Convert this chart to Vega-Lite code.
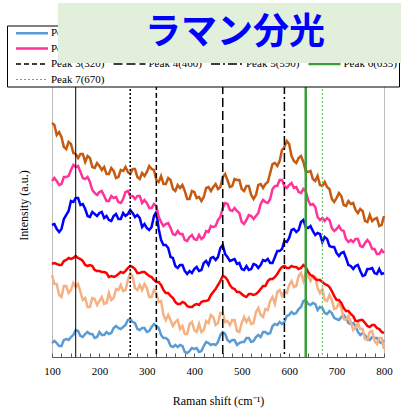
{
  "$schema": "https://vega.github.io/schema/vega-lite/v6.json",
  "width": 332,
  "height": 272,
  "autosize": {"type": "none"},
  "padding": {"left": 52, "top": 85, "right": 17, "bottom": 54},
  "background": "#ffffff",
  "title": {
    "text": "ラマン分光",
    "orient": "none",
    "align": "center",
    "baseline": "middle",
    "dx": 177,
    "dy": 30,
    "font": "Noto Sans CJK JP",
    "fontSize": 36,
    "fontWeight": "bold",
    "color": "#0000ff",
    "encode": {
      "group": {"update": {"x": {"value": 6}, "y": {"value": -82}, "width": {"value": 350}, "height": {"value": 60}, "fill": {"value": "#e2efda"}}},
      "title": {"update": {}}
    }
  },
  "datasets": {
    "spectra": [
      {"shift": 100, "Point 1": 14, "Point 2": 82, "Point 3": 93, "Point 4": 132, "Point 5": 176, "Point 6": 234},
      {"shift": 105, "Point 1": 16, "Point 2": 73, "Point 3": 94, "Point 4": 133, "Point 5": 179, "Point 6": 232},
      {"shift": 110, "Point 1": 14, "Point 2": 73, "Point 3": 93, "Point 4": 128, "Point 5": 176, "Point 6": 222},
      {"shift": 115, "Point 1": 11, "Point 2": 62, "Point 3": 92, "Point 4": 125, "Point 5": 172, "Point 6": 225},
      {"shift": 120, "Point 1": 11, "Point 2": 60, "Point 3": 92, "Point 4": 128, "Point 5": 173, "Point 6": 220},
      {"shift": 125, "Point 1": 17, "Point 2": 71, "Point 3": 96, "Point 4": 138, "Point 5": 180, "Point 6": 210},
      {"shift": 130, "Point 1": 18, "Point 2": 71, "Point 3": 97, "Point 4": 142, "Point 5": 180, "Point 6": 208},
      {"shift": 135, "Point 1": 17, "Point 2": 64, "Point 3": 99, "Point 4": 146, "Point 5": 181, "Point 6": 215},
      {"shift": 140, "Point 1": 20, "Point 2": 67, "Point 3": 98, "Point 4": 156, "Point 5": 187, "Point 6": 213},
      {"shift": 145, "Point 1": 22, "Point 2": 74, "Point 3": 99, "Point 4": 155, "Point 5": 192, "Point 6": 204},
      {"shift": 150, "Point 1": 27, "Point 2": 70, "Point 3": 101, "Point 4": 159, "Point 5": 190, "Point 6": 203},
      {"shift": 155, "Point 1": 26, "Point 2": 73, "Point 3": 99, "Point 4": 159, "Point 5": 191, "Point 6": 199},
      {"shift": 160, "Point 1": 21, "Point 2": 65, "Point 3": 98, "Point 4": 152, "Point 5": 185, "Point 6": 203},
      {"shift": 165, "Point 1": 20, "Point 2": 57, "Point 3": 96, "Point 4": 153, "Point 5": 179, "Point 6": 203},
      {"shift": 170, "Point 1": 23, "Point 2": 59, "Point 3": 92, "Point 4": 148, "Point 5": 178, "Point 6": 195},
      {"shift": 175, "Point 1": 25, "Point 2": 50, "Point 3": 91, "Point 4": 141, "Point 5": 180, "Point 6": 201},
      {"shift": 180, "Point 1": 23, "Point 2": 50, "Point 3": 92, "Point 4": 140, "Point 5": 175, "Point 6": 199},
      {"shift": 185, "Point 1": 23, "Point 2": 59, "Point 3": 91, "Point 4": 145, "Point 5": 167, "Point 6": 190},
      {"shift": 190, "Point 1": 19, "Point 2": 58, "Point 3": 87, "Point 4": 143, "Point 5": 164, "Point 6": 189},
      {"shift": 195, "Point 1": 20, "Point 2": 52, "Point 3": 86, "Point 4": 141, "Point 5": 162, "Point 6": 194},
      {"shift": 200, "Point 1": 25, "Point 2": 56, "Point 3": 86, "Point 4": 144, "Point 5": 165, "Point 6": 191},
      {"shift": 205, "Point 1": 22, "Point 2": 60, "Point 3": 85, "Point 4": 145, "Point 5": 166, "Point 6": 187},
      {"shift": 210, "Point 1": 22, "Point 2": 53, "Point 3": 85, "Point 4": 139, "Point 5": 161, "Point 6": 190},
      {"shift": 215, "Point 1": 25, "Point 2": 54, "Point 3": 84, "Point 4": 141, "Point 5": 156, "Point 6": 183},
      {"shift": 220, "Point 1": 23, "Point 2": 64, "Point 3": 80, "Point 4": 137, "Point 5": 156, "Point 6": 183},
      {"shift": 225, "Point 1": 24, "Point 2": 57, "Point 3": 81, "Point 4": 136, "Point 5": 161, "Point 6": 189},
      {"shift": 230, "Point 1": 29, "Point 2": 59, "Point 3": 80, "Point 4": 141, "Point 5": 159, "Point 6": 186},
      {"shift": 235, "Point 1": 31, "Point 2": 68, "Point 3": 81, "Point 4": 143, "Point 5": 160, "Point 6": 179},
      {"shift": 240, "Point 1": 29, "Point 2": 67, "Point 3": 83, "Point 4": 138, "Point 5": 155, "Point 6": 180},
      {"shift": 245, "Point 1": 28, "Point 2": 72, "Point 3": 85, "Point 4": 138, "Point 5": 154, "Point 6": 187},
      {"shift": 250, "Point 1": 30, "Point 2": 66, "Point 3": 84, "Point 4": 144, "Point 5": 158, "Point 6": 186},
      {"shift": 255, "Point 1": 32, "Point 2": 67, "Point 3": 86, "Point 4": 141, "Point 5": 165, "Point 6": 190},
      {"shift": 260, "Point 1": 37, "Point 2": 77, "Point 3": 89, "Point 4": 143, "Point 5": 166, "Point 6": 185},
      {"shift": 265, "Point 1": 38, "Point 2": 84, "Point 3": 91, "Point 4": 147, "Point 5": 161, "Point 6": 183},
      {"shift": 270, "Point 1": 35, "Point 2": 80, "Point 3": 90, "Point 4": 144, "Point 5": 161, "Point 6": 188},
      {"shift": 275, "Point 1": 34, "Point 2": 69, "Point 3": 88, "Point 4": 140, "Point 5": 158, "Point 6": 188},
      {"shift": 280, "Point 1": 28, "Point 2": 67, "Point 3": 84, "Point 4": 142, "Point 5": 161, "Point 6": 180},
      {"shift": 285, "Point 1": 27, "Point 2": 72, "Point 3": 84, "Point 4": 139, "Point 5": 161, "Point 6": 178},
      {"shift": 290, "Point 1": 29, "Point 2": 67, "Point 3": 85, "Point 4": 130, "Point 5": 154, "Point 6": 184},
      {"shift": 295, "Point 1": 29, "Point 2": 73, "Point 3": 85, "Point 4": 133, "Point 5": 157, "Point 6": 181},
      {"shift": 300, "Point 1": 25, "Point 2": 69, "Point 3": 83, "Point 4": 129, "Point 5": 154, "Point 6": 185},
      {"shift": 305, "Point 1": 26, "Point 2": 60, "Point 3": 81, "Point 4": 127, "Point 5": 149, "Point 6": 191},
      {"shift": 310, "Point 1": 30, "Point 2": 60, "Point 3": 80, "Point 4": 130, "Point 5": 149, "Point 6": 188},
      {"shift": 315, "Point 1": 33, "Point 2": 67, "Point 3": 77, "Point 4": 141, "Point 5": 153, "Point 6": 187},
      {"shift": 320, "Point 1": 31, "Point 2": 64, "Point 3": 75, "Point 4": 145, "Point 5": 151, "Point 6": 177},
      {"shift": 325, "Point 1": 29, "Point 2": 55, "Point 3": 75, "Point 4": 128, "Point 5": 140, "Point 6": 175},
      {"shift": 330, "Point 1": 22, "Point 2": 56, "Point 3": 72, "Point 4": 117, "Point 5": 135, "Point 6": 181},
      {"shift": 335, "Point 1": 19, "Point 2": 42, "Point 3": 67, "Point 4": 112, "Point 5": 131, "Point 6": 173},
      {"shift": 340, "Point 1": 19, "Point 2": 37, "Point 3": 64, "Point 4": 112, "Point 5": 133, "Point 6": 173},
      {"shift": 345, "Point 1": 17, "Point 2": 42, "Point 3": 64, "Point 4": 109, "Point 5": 134, "Point 6": 179},
      {"shift": 350, "Point 1": 11, "Point 2": 37, "Point 3": 61, "Point 4": 100, "Point 5": 129, "Point 6": 177},
      {"shift": 355, "Point 1": 10, "Point 2": 31, "Point 3": 59, "Point 4": 99, "Point 5": 123, "Point 6": 168},
      {"shift": 360, "Point 1": 12, "Point 2": 35, "Point 3": 55, "Point 4": 91, "Point 5": 122, "Point 6": 166},
      {"shift": 365, "Point 1": 10, "Point 2": 37, "Point 3": 53, "Point 4": 89, "Point 5": 126, "Point 6": 172},
      {"shift": 370, "Point 1": 12, "Point 2": 28, "Point 3": 53, "Point 4": 92, "Point 5": 123, "Point 6": 169},
      {"shift": 375, "Point 1": 11, "Point 2": 31, "Point 3": 55, "Point 4": 92, "Point 5": 123, "Point 6": 172},
      {"shift": 380, "Point 1": 5, "Point 2": 23, "Point 3": 54, "Point 4": 86, "Point 5": 117, "Point 6": 166},
      {"shift": 385, "Point 1": 4, "Point 2": 23, "Point 3": 51, "Point 4": 83, "Point 5": 116, "Point 6": 158},
      {"shift": 390, "Point 1": 6, "Point 2": 33, "Point 3": 50, "Point 4": 86, "Point 5": 120, "Point 6": 158},
      {"shift": 395, "Point 1": 9, "Point 2": 35, "Point 3": 50, "Point 4": 84, "Point 5": 122, "Point 6": 166},
      {"shift": 400, "Point 1": 8, "Point 2": 27, "Point 3": 52, "Point 4": 88, "Point 5": 118, "Point 6": 165},
      {"shift": 405, "Point 1": 9, "Point 2": 25, "Point 3": 53, "Point 4": 90, "Point 5": 117, "Point 6": 159},
      {"shift": 410, "Point 1": 5, "Point 2": 33, "Point 3": 52, "Point 4": 86, "Point 5": 122, "Point 6": 160},
      {"shift": 415, "Point 1": 6, "Point 2": 25, "Point 3": 55, "Point 4": 87, "Point 5": 118, "Point 6": 156},
      {"shift": 420, "Point 1": 11, "Point 2": 27, "Point 3": 56, "Point 4": 94, "Point 5": 120, "Point 6": 160},
      {"shift": 425, "Point 1": 15, "Point 2": 36, "Point 3": 56, "Point 4": 96, "Point 5": 126, "Point 6": 169},
      {"shift": 430, "Point 1": 14, "Point 2": 34, "Point 3": 57, "Point 4": 92, "Point 5": 125, "Point 6": 170},
      {"shift": 435, "Point 1": 12, "Point 2": 42, "Point 3": 62, "Point 4": 99, "Point 5": 131, "Point 6": 166},
      {"shift": 440, "Point 1": 13, "Point 2": 40, "Point 3": 65, "Point 4": 100, "Point 5": 130, "Point 6": 170},
      {"shift": 445, "Point 1": 12, "Point 2": 32, "Point 3": 68, "Point 4": 97, "Point 5": 131, "Point 6": 173},
      {"shift": 450, "Point 1": 15, "Point 2": 34, "Point 3": 72, "Point 4": 100, "Point 5": 137, "Point 6": 168},
      {"shift": 455, "Point 1": 22, "Point 2": 44, "Point 3": 76, "Point 4": 109, "Point 5": 140, "Point 6": 170},
      {"shift": 460, "Point 1": 25, "Point 2": 44, "Point 3": 81, "Point 4": 112, "Point 5": 149, "Point 6": 180},
      {"shift": 465, "Point 1": 23, "Point 2": 35, "Point 3": 80, "Point 4": 103, "Point 5": 154, "Point 6": 183},
      {"shift": 470, "Point 1": 17, "Point 2": 36, "Point 3": 77, "Point 4": 100, "Point 5": 153, "Point 6": 177},
      {"shift": 475, "Point 1": 15, "Point 2": 32, "Point 3": 72, "Point 4": 96, "Point 5": 147, "Point 6": 170},
      {"shift": 480, "Point 1": 17, "Point 2": 37, "Point 3": 69, "Point 4": 97, "Point 5": 146, "Point 6": 171},
      {"shift": 485, "Point 1": 17, "Point 2": 37, "Point 3": 68, "Point 4": 98, "Point 5": 149, "Point 6": 178},
      {"shift": 490, "Point 1": 12, "Point 2": 26, "Point 3": 65, "Point 4": 93, "Point 5": 146, "Point 6": 177},
      {"shift": 495, "Point 1": 14, "Point 2": 25, "Point 3": 65, "Point 4": 94, "Point 5": 144, "Point 6": 177},
      {"shift": 500, "Point 1": 15, "Point 2": 34, "Point 3": 63, "Point 4": 88, "Point 5": 135, "Point 6": 168},
      {"shift": 505, "Point 1": 15, "Point 2": 40, "Point 3": 61, "Point 4": 87, "Point 5": 133, "Point 6": 166},
      {"shift": 510, "Point 1": 19, "Point 2": 35, "Point 3": 60, "Point 4": 91, "Point 5": 137, "Point 6": 171},
      {"shift": 515, "Point 1": 19, "Point 2": 39, "Point 3": 63, "Point 4": 87, "Point 5": 142, "Point 6": 171},
      {"shift": 520, "Point 1": 15, "Point 2": 33, "Point 3": 63, "Point 4": 88, "Point 5": 141, "Point 6": 162},
      {"shift": 525, "Point 1": 16, "Point 2": 34, "Point 3": 62, "Point 4": 93, "Point 5": 138, "Point 6": 158},
      {"shift": 530, "Point 1": 20, "Point 2": 45, "Point 3": 63, "Point 4": 92, "Point 5": 141, "Point 6": 162},
      {"shift": 535, "Point 1": 22, "Point 2": 49, "Point 3": 65, "Point 4": 89, "Point 5": 144, "Point 6": 172},
      {"shift": 540, "Point 1": 20, "Point 2": 42, "Point 3": 68, "Point 4": 92, "Point 5": 153, "Point 6": 173},
      {"shift": 545, "Point 1": 25, "Point 2": 40, "Point 3": 71, "Point 4": 97, "Point 5": 157, "Point 6": 169},
      {"shift": 550, "Point 1": 25, "Point 2": 48, "Point 3": 71, "Point 4": 96, "Point 5": 155, "Point 6": 173},
      {"shift": 555, "Point 1": 23, "Point 2": 47, "Point 3": 76, "Point 4": 98, "Point 5": 154, "Point 6": 175},
      {"shift": 560, "Point 1": 24, "Point 2": 56, "Point 3": 78, "Point 4": 94, "Point 5": 158, "Point 6": 184},
      {"shift": 565, "Point 1": 31, "Point 2": 60, "Point 3": 78, "Point 4": 94, "Point 5": 168, "Point 6": 193},
      {"shift": 570, "Point 1": 33, "Point 2": 53, "Point 3": 80, "Point 4": 100, "Point 5": 171, "Point 6": 194},
      {"shift": 575, "Point 1": 32, "Point 2": 65, "Point 3": 83, "Point 4": 106, "Point 5": 171, "Point 6": 191},
      {"shift": 580, "Point 1": 35, "Point 2": 67, "Point 3": 87, "Point 4": 106, "Point 5": 177, "Point 6": 196},
      {"shift": 585, "Point 1": 33, "Point 2": 61, "Point 3": 90, "Point 4": 108, "Point 5": 177, "Point 6": 207},
      {"shift": 590, "Point 1": 35, "Point 2": 65, "Point 3": 91, "Point 4": 116, "Point 5": 171, "Point 6": 210},
      {"shift": 595, "Point 1": 41, "Point 2": 64, "Point 3": 89, "Point 4": 115, "Point 5": 169, "Point 6": 216},
      {"shift": 600, "Point 1": 42, "Point 2": 72, "Point 3": 89, "Point 4": 119, "Point 5": 172, "Point 6": 213},
      {"shift": 605, "Point 1": 45, "Point 2": 76, "Point 3": 91, "Point 4": 127, "Point 5": 174, "Point 6": 201},
      {"shift": 610, "Point 1": 43, "Point 2": 70, "Point 3": 90, "Point 4": 128, "Point 5": 169, "Point 6": 196},
      {"shift": 615, "Point 1": 44, "Point 2": 71, "Point 3": 90, "Point 4": 125, "Point 5": 170, "Point 6": 194},
      {"shift": 620, "Point 1": 48, "Point 2": 81, "Point 3": 88, "Point 4": 127, "Point 5": 165, "Point 6": 199},
      {"shift": 625, "Point 1": 50, "Point 2": 84, "Point 3": 89, "Point 4": 135, "Point 5": 164, "Point 6": 201},
      {"shift": 630, "Point 1": 56, "Point 2": 76, "Point 3": 92, "Point 4": 137, "Point 5": 168, "Point 6": 195},
      {"shift": 635, "Point 1": 57, "Point 2": 84, "Point 3": 90, "Point 4": 130, "Point 5": 166, "Point 6": 186},
      {"shift": 640, "Point 1": 53, "Point 2": 81, "Point 3": 85, "Point 4": 129, "Point 5": 157, "Point 6": 185},
      {"shift": 645, "Point 1": 52, "Point 2": 76, "Point 3": 82, "Point 4": 131, "Point 5": 152, "Point 6": 186},
      {"shift": 650, "Point 1": 54, "Point 2": 81, "Point 3": 81, "Point 4": 126, "Point 5": 153, "Point 6": 178},
      {"shift": 655, "Point 1": 53, "Point 2": 80, "Point 3": 78, "Point 4": 122, "Point 5": 150, "Point 6": 176},
      {"shift": 660, "Point 1": 47, "Point 2": 69, "Point 3": 77, "Point 4": 124, "Point 5": 140, "Point 6": 181},
      {"shift": 665, "Point 1": 50, "Point 2": 64, "Point 3": 77, "Point 4": 123, "Point 5": 137, "Point 6": 172},
      {"shift": 670, "Point 1": 49, "Point 2": 68, "Point 3": 75, "Point 4": 115, "Point 5": 139, "Point 6": 171},
      {"shift": 675, "Point 1": 44, "Point 2": 57, "Point 3": 73, "Point 4": 120, "Point 5": 136, "Point 6": 175},
      {"shift": 680, "Point 1": 43, "Point 2": 56, "Point 3": 72, "Point 4": 118, "Point 5": 139, "Point 6": 170},
      {"shift": 685, "Point 1": 46, "Point 2": 62, "Point 3": 70, "Point 4": 111, "Point 5": 137, "Point 6": 168},
      {"shift": 690, "Point 1": 44, "Point 2": 57, "Point 3": 66, "Point 4": 110, "Point 5": 129, "Point 6": 158},
      {"shift": 695, "Point 1": 39, "Point 2": 48, "Point 3": 61, "Point 4": 110, "Point 5": 126, "Point 6": 155},
      {"shift": 700, "Point 1": 38, "Point 2": 49, "Point 3": 57, "Point 4": 104, "Point 5": 128, "Point 6": 159},
      {"shift": 705, "Point 1": 37, "Point 2": 54, "Point 3": 57, "Point 4": 101, "Point 5": 131, "Point 6": 164},
      {"shift": 710, "Point 1": 40, "Point 2": 49, "Point 3": 54, "Point 4": 104, "Point 5": 127, "Point 6": 161},
      {"shift": 715, "Point 1": 42, "Point 2": 38, "Point 3": 49, "Point 4": 105, "Point 5": 126, "Point 6": 152},
      {"shift": 720, "Point 1": 39, "Point 2": 37, "Point 3": 46, "Point 4": 99, "Point 5": 118, "Point 6": 151},
      {"shift": 725, "Point 1": 34, "Point 2": 41, "Point 3": 46, "Point 4": 92, "Point 5": 115, "Point 6": 156},
      {"shift": 730, "Point 1": 33, "Point 2": 35, "Point 3": 43, "Point 4": 91, "Point 5": 117, "Point 6": 153},
      {"shift": 735, "Point 1": 34, "Point 2": 27, "Point 3": 41, "Point 4": 88, "Point 5": 115, "Point 6": 154},
      {"shift": 740, "Point 1": 31, "Point 2": 29, "Point 3": 36, "Point 4": 91, "Point 5": 118, "Point 6": 147},
      {"shift": 745, "Point 1": 25, "Point 2": 34, "Point 3": 36, "Point 4": 92, "Point 5": 118, "Point 6": 144},
      {"shift": 750, "Point 1": 22, "Point 2": 28, "Point 3": 37, "Point 4": 86, "Point 5": 111, "Point 6": 148},
      {"shift": 755, "Point 1": 24, "Point 2": 28, "Point 3": 37, "Point 4": 81, "Point 5": 110, "Point 6": 146},
      {"shift": 760, "Point 1": 22, "Point 2": 18, "Point 3": 34, "Point 4": 82, "Point 5": 114, "Point 6": 136},
      {"shift": 765, "Point 1": 18, "Point 2": 17, "Point 3": 31, "Point 4": 88, "Point 5": 117, "Point 6": 135},
      {"shift": 770, "Point 1": 17, "Point 2": 25, "Point 3": 30, "Point 4": 88, "Point 5": 114, "Point 6": 142},
      {"shift": 775, "Point 1": 20, "Point 2": 26, "Point 3": 32, "Point 4": 89, "Point 5": 108, "Point 6": 136},
      {"shift": 780, "Point 1": 19, "Point 2": 16, "Point 3": 32, "Point 4": 84, "Point 5": 108, "Point 6": 138},
      {"shift": 785, "Point 1": 19, "Point 2": 13, "Point 3": 29, "Point 4": 83, "Point 5": 103, "Point 6": 139},
      {"shift": 790, "Point 1": 15, "Point 2": 19, "Point 3": 28, "Point 4": 88, "Point 5": 103, "Point 6": 131},
      {"shift": 795, "Point 1": 14, "Point 2": 19, "Point 3": 25, "Point 4": 83, "Point 5": 107, "Point 6": 132},
      {"shift": 800, "Point 1": 17, "Point 2": 8, "Point 3": 24, "Point 4": 84, "Point 5": 104, "Point 6": 141}
    ],
    "peaks": [
      {"name": "Peak 1(150)", "shift": 150},
      {"name": "Peak 2(265)", "shift": 265},
      {"name": "Peak 3(320)", "shift": 320},
      {"name": "Peak 4(460)", "shift": 460},
      {"name": "Peak 5(590)", "shift": 590},
      {"name": "Peak 6(635)", "shift": 635},
      {"name": "Peak 7(670)", "shift": 670}
    ]
  },
  "encoding": {
    "x": {
      "field": "shift",
      "type": "quantitative",
      "scale": {"domain": [100, 800], "nice": false, "zero": false},
      "axis": {
        "title": "Raman shift (cm⁻¹)",
        "values": [100, 120, 140, 160, 180, 200, 220, 240, 260, 280, 300, 320, 340, 360, 380, 400, 420, 440, 460, 480, 500, 520, 540, 560, 580, 600, 620, 640, 660, 680, 700, 720, 740, 760, 780, 800],
        "labelExpr": "datum.value % 100 === 0 ? datum.label : ''",
        "labelFlush": false,
        "labelOverlap": false,
        "tickSize": -4,
        "labelPadding": 12,
        "titleY": 43,
        "titleBaseline": "middle"
      }
    },
    "color": {
      "field": "name",
      "type": "nominal",
      "scale": {
        "domain": ["Point 1", "Point 2", "Point 3", "Point 4", "Point 5", "Point 6", "Peak 1(150)", "Peak 2(265)", "Peak 3(320)", "Peak 4(460)", "Peak 5(590)", "Peak 6(635)", "Peak 7(670)"],
        "range": ["#5b9bd5", "#f4b183", "#ff0000", "#0000ff", "#ff3399", "#c55a11", "#000000", "#000000", "#000000", "#000000", "#000000", "#3a9e3a", "#4fbf4f"]
      },
      "legend": {
        "symbolType": "M-16,0H16",
        "symbolSize": 4,
        "symbolOffset": 17.5,
        "labelFont": "Liberation Serif",
        "labelFontSize": 11
      }
    },
    "strokeDash": {
      "field": "name",
      "type": "nominal",
      "scale": {
        "domain": ["Point 1", "Point 2", "Point 3", "Point 4", "Point 5", "Point 6", "Peak 1(150)", "Peak 2(265)", "Peak 3(320)", "Peak 4(460)", "Peak 5(590)", "Peak 6(635)", "Peak 7(670)"],
        "range": [[1, 0], [1, 0], [1, 0], [1, 0], [1, 0], [1, 0], [1, 0], [2, 2], [5, 3], [9, 4], [9, 3, 2, 3], [1, 0], [2, 2]]
      }
    },
    "strokeWidth": {
      "field": "name",
      "type": "nominal",
      "scale": {
        "type": "ordinal",
        "domain": ["Point 1", "Point 2", "Point 3", "Point 4", "Point 5", "Point 6", "Peak 1(150)", "Peak 2(265)", "Peak 3(320)", "Peak 4(460)", "Peak 5(590)", "Peak 6(635)", "Peak 7(670)"],
        "range": [2.5, 2.5, 2.5, 2.5, 2.5, 2.5, 1, 1.5, 1.5, 1.5, 1.5, 2.5, 1]
      }
    }
  },
  "layer": [
    {
      "data": {"name": "spectra"},
      "transform": [{"fold": ["Point 1", "Point 2", "Point 3", "Point 4", "Point 5", "Point 6"], "as": ["name", "intensity"]}],
      "mark": {"type": "line", "interpolate": "linear"},
      "encoding": {
        "y": {
          "field": "intensity",
          "type": "quantitative",
          "scale": {"domain": [0, 272], "nice": false, "zero": false},
          "axis": {
            "title": "Intensity (a.u.)",
            "domain": false,
            "ticks": false,
            "labels": false,
            "grid": false,
            "titleX": -29,
            "titleY": 120,
            "titleAngle": 270,
            "titleAlign": "center",
            "titleBaseline": "middle"
          }
        }
      }
    },
    {
      "data": {"name": "peaks"},
      "mark": {"type": "rule"},
      "encoding": {}
    }
  ],
  "config": {
    "view": {"stroke": "#bfbfbf", "strokeWidth": 1},
    "axis": {
      "grid": false,
      "labelFont": "Liberation Serif",
      "labelFontSize": 11,
      "labelColor": "#000000",
      "titleFont": "Liberation Serif",
      "titleFontSize": 12,
      "titleFontWeight": "normal",
      "titleColor": "#000000",
      "domainColor": "#595959",
      "tickColor": "#595959"
    },
    "legend": {
      "orient": "none",
      "direction": "horizontal",
      "legendX": -45,
      "legendY": -59.5,
      "title": null,
      "columns": 4,
      "labelFont": "Liberation Serif",
      "labelFontSize": 11,
      "labelColor": "#000000",
      "labelOffset": 13.5,
      "labelLimit": 120,
      "padding": 2,
      "rowPadding": 3.5,
      "columnPadding": 1.5,
      "fillColor": "#ffffff",
      "strokeColor": "#000000",
      "strokeWidth": 1,
      "cornerRadius": 0
    }
  }
}
